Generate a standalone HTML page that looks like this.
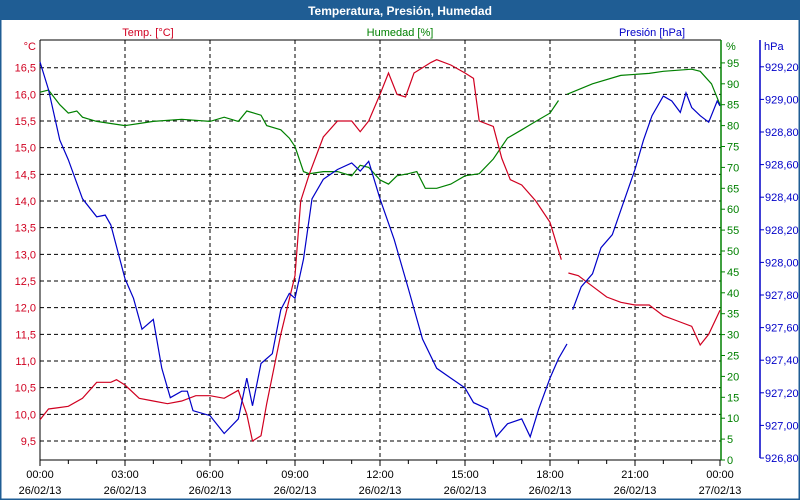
<!DOCTYPE html>
<html><head><meta charset="utf-8"><style>
body{margin:0;background:#fff;font-family:"Liberation Sans","DejaVu Sans",sans-serif}
svg{display:block}
</style></head><body>
<svg id="c" width="800" height="500" xmlns="http://www.w3.org/2000/svg">
<rect x="0" y="0" width="800" height="500" fill="#fff" stroke="#1f5d94" stroke-width="3"/>
<rect x="0" y="0" width="800" height="20" fill="#1f5d94"/>
<text x="400" y="15" text-anchor="middle" fill="#fff" font-weight="bold" font-size="12">Temperatura, Presión, Humedad</text>
<text x="148" y="36" text-anchor="middle" fill="#d00020" font-size="11">Temp. [°C]</text>
<text x="400" y="36" text-anchor="middle" fill="#008000" font-size="11">Humedad [%]</text>
<text x="652" y="36" text-anchor="middle" fill="#0000c8" font-size="11">Presión [hPa]</text>
<text x="36" y="50" text-anchor="end" fill="#d00020" font-size="11">°C</text>
<text x="726" y="50" fill="#008000" font-size="11">%</text>
<text x="764" y="50" fill="#0000c8" font-size="11">hPa</text>
<g id="g"></g>
</svg>
<script>
var hours=[0,3,6,9,12,15,18,21,24];
var xLabels=["00:00","03:00","06:00","09:00","12:00","15:00","18:00","21:00","00:00"];
var dLabels=["26/02/13","26/02/13","26/02/13","26/02/13","26/02/13","26/02/13","26/02/13","26/02/13","27/02/13"];
var tempTicks=[9.5,10,10.5,11,11.5,12,12.5,13,13.5,14,14.5,15,15.5,16,16.5];
var humTicks=[0,5,10,15,20,25,30,35,40,45,50,55,60,65,70,75,80,85,90,95];
var presTicks=[926.8,927.0,927.2,927.4,927.6,927.8,928.0,928.2,928.4,928.6,928.8,929.0,929.2];
var tempT=[0,0.3,0.6,1,1.5,2,2.5,2.7,3,3.5,4,4.5,5,5.5,6,6.5,7,7.3,7.5,7.8,8,8.5,9,9.2,9.5,10,10.5,11,11.3,11.6,12,12.3,12.6,12.9,13.2,13.5,13.8,14,14.5,15,15.3,15.5,16,16.3,16.6,17,17.5,18,18.4,null,18.65,19,19.5,20,20.5,21,21.5,22,22.5,23,23.3,23.6,24];
var tempV=[9.9,10.1,10.12,10.15,10.3,10.6,10.6,10.65,10.55,10.3,10.25,10.2,10.25,10.35,10.35,10.3,10.45,10.0,9.5,9.6,10.2,11.5,12.6,14.0,14.5,15.2,15.5,15.5,15.3,15.5,16.0,16.4,16.0,15.95,16.4,16.5,16.6,16.65,16.55,16.4,16.3,15.5,15.4,14.8,14.4,14.3,14.0,13.6,12.9,null,12.65,12.6,12.4,12.2,12.1,12.05,12.05,11.85,11.75,11.65,11.3,11.5,11.95];
var humT=[0,0.3,0.7,1,1.3,1.5,2,2.5,3,3.5,4,5,6,6.5,7,7.3,7.8,8,8.5,8.8,9,9.3,9.5,10,10.5,11,11.3,11.6,12,12.3,12.6,13,13.3,13.6,14,14.5,15,15.5,16,16.5,17,17.5,18,18.3,null,18.6,19.5,20.5,21.5,22,23,23.3,23.7,24];
var humV=[88,88.5,85,83,83.5,82,81,80.5,80,80.5,81,81.5,81,82,81,83.5,82.5,80,79,77,75,69,68.5,69,69,68,70.5,70,67,66,68,68.5,69,65,65,66,68,68.5,72,77,79,81,83,86,null,87.5,90,92,92.5,93,93.5,93,90,85];
var presT=[0,0.3,0.7,1,1.5,2,2.3,2.5,3,3.3,3.6,4,4.3,4.6,5,5.2,5.4,6,6.5,7,7.3,7.5,7.8,8.2,8.5,8.8,9,9.3,9.6,10,10.5,11,11.3,11.6,12,12.5,13,13.5,14,14.5,15,15.3,15.8,16.1,16.5,17,17.3,17.6,18,18.3,18.6,null,18.8,19.1,19.5,19.8,20.2,20.5,21,21.3,21.6,22,22.3,22.6,22.8,23,23.3,23.6,23.9,24];
var presV=[929.23,929.06,928.75,928.63,928.39,928.28,928.29,928.23,927.90,927.78,927.59,927.65,927.35,927.17,927.21,927.21,927.09,927.06,926.95,927.04,927.29,927.12,927.38,927.44,927.71,927.81,927.78,928.02,928.39,928.51,928.57,928.61,928.56,928.62,928.39,928.14,927.84,927.53,927.35,927.29,927.23,927.14,927.10,926.93,927.01,927.04,926.93,927.10,927.29,927.41,927.50,null,927.71,927.85,927.93,928.09,928.17,928.32,928.57,928.75,928.90,929.02,928.99,928.92,929.04,928.95,928.90,928.86,928.99,928.96];

var L=40,R=721,T=40,B=460;
function xS(h){return L+h*(680/24);}
function yT(t){return 441-(t-9.5)*53.33;}
function yH(v){return 460-v*4.18;}
function yP(p){return 458-(p-926.8)*163;}
var NS="http://www.w3.org/2000/svg",g=document.getElementById('g');
function el(tag,attrs,parent){var e=document.createElementNS(NS,tag);for(var k in attrs)e.setAttribute(k,attrs[k]);(parent||g).appendChild(e);return e;}

// grid
tempTicks.forEach(function(t){
 var e=el('line',{x1:L,x2:R,y1:yT(t),y2:yT(t),stroke:'#000','stroke-dasharray':'4,3','stroke-width':1});
 
 
 var tx=el('text',{x:36,y:yT(t)+4,'text-anchor':'end',fill:'#d00020','font-size':11});
 tx.textContent=t.toFixed(1).replace('.',',');
 
 
});
hours.forEach(function(h,i){
 if(i>0&&i<hours.length-1){
  var e=el('line',{x1:xS(h),x2:xS(h),y1:T,y2:B,stroke:'#000','stroke-dasharray':'4,3','stroke-width':1});
  
  
 }
 var a=el('text',{x:xS(h),y:478,'text-anchor':'middle',fill:'#000','font-size':11});
 a.textContent=xLabels[i];
 
 
 var b=el('text',{x:xS(h),y:494,'text-anchor':'middle',fill:'#000','font-size':11});
 b.textContent=dLabels[i];
 
 
});
for(var h=0;h<=24;h++){
 var tk=el('line',{x1:xS(h),x2:xS(h),y1:B,y2:B+(h%3==0?6:4),stroke:'#000'});
 
 
}
// frame
var f=el('path',{d:'M'+L+','+T+' V'+B+' H'+R+' M'+L+','+T+' H'+R,stroke:'#000',fill:'none'});


var ga=el('line',{x1:R,x2:R,y1:T,y2:B,stroke:'#008000','stroke-width':1.5});


humTicks.forEach(function(v){
 var t=el('line',{x1:R,x2:R+4,y1:yH(v),y2:yH(v),stroke:'#008000'});
 
 
 var tx=el('text',{x:R+6,y:yH(v)+4,fill:'#008000','font-size':11});
 tx.textContent=v;
 
 
});
var pa=el('line',{x1:760,x2:760,y1:T,y2:458,stroke:'#0000c8','stroke-width':1.5});


presTicks.forEach(function(p){
 var t=el('line',{x1:760,x2:764,y1:yP(p),y2:yP(p),stroke:'#0000c8'});
 
 
 var tx=el('text',{x:765,y:yP(p)+4,fill:'#0000c8','font-size':11});
 tx.textContent=p.toFixed(2).replace('.',',');
 
 
});
function series(ts,vs,yf,col,name){
 var d='',pen=false;
 for(var i=0;i<ts.length;i++){
  if(vs[i]===null||ts[i]===null){pen=false;continue;}
  d+=(pen?'L':'M')+xS(ts[i]).toFixed(1)+','+yf(vs[i]).toFixed(1)+' ';pen=true;
 }
 var p=el('path',{d:d,stroke:col,fill:'none','stroke-width':1.2});
 
 
}
series(humT,humV,yH,'#008000','humidity-line');
series(tempT,tempV,yT,'#d00020','temperature-line');
series(presT,presV,yP,'#0000c8','pressure-line');
</script>
</body></html>
